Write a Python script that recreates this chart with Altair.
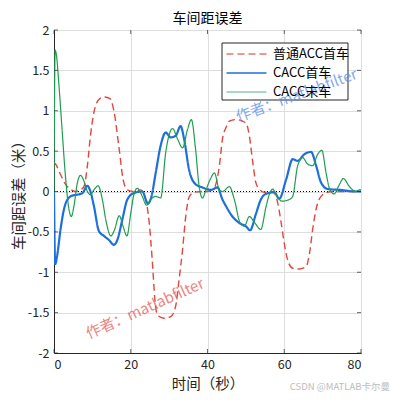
import altair as alt
import pandas as pd

series_names = ["普通ACC首车", "CACC首车", "CACC末车"]
series_colors = ["#E2463C", "#1E6FDC", "#1E9E50"]

acc_t = [0, 0.4, 1.7, 3.0, 4.5, 5.5, 6.9, 7.8, 8.7, 9.5, 10.4, 11.7, 13.0, 14.6, 15.6, 17.0, 18.0, 19.1,
         20.8, 22.6, 23.9, 24.8, 25.6, 26.3, 26.9, 28.7, 30.4, 31.7, 32.6, 33.5, 34.4, 35.2, 36.5, 38.7,
         40.0, 41.8, 43.1, 43.9, 44.8, 45.7, 47.4, 50.0, 50.9, 51.8, 52.6, 53.5, 54.8, 57.0, 58.3, 59.2,
         60.0, 60.9, 62.2, 63.9, 65.7, 66.6, 67.4, 68.3, 69.6, 71.3, 72.2, 80.0]
acc_y = [0.36, 0.34, 0.21, 0.09, 0.02, 0.0, 0.02, 0.06, 0.32, 0.69, 0.98, 1.14, 1.17, 1.15, 1.0, 0.52, 0.15, 0.02,
         0.0, 0.02, -0.1, -0.38, -0.85, -1.34, -1.53, -1.57, -1.55, -1.42, -1.09, -0.72, -0.28, -0.07, -0.01, 0.0,
         0.0, 0.05, 0.32, 0.65, 0.79, 0.87, 0.89, 0.85, 0.69, 0.36, 0.11, 0.03, -0.01, 0.0, -0.14, -0.39,
         -0.64, -0.85, -0.95, -0.96, -0.93, -0.76, -0.47, -0.22, -0.06, -0.01, 0.0, 0.0]

lead_t = [0, 0.3, 0.8, 1.7, 2.6, 3.5, 4.8, 6.0, 7.4, 8.7, 9.5, 10.4, 11.7, 13.0, 14.3, 15.6, 16.5, 17.8, 19.1,
          20.8, 23.0, 24.5, 25.4, 26.5, 27.8, 29.1, 30.4, 31.7, 33.0, 33.9, 35.2, 36.9, 38.7, 40.9, 42.6,
          43.9, 44.8, 46.5, 48.3, 50.0, 51.1, 52.6, 53.9, 55.2, 57.4, 58.7, 60.5, 62.2, 63.5, 65.2, 67.0,
          68.3, 69.6, 71.4, 74.4, 78.7, 80.0]
lead_y = [0.0, -0.9, -0.8, -0.47, -0.22, -0.1, -0.05, -0.04, -0.02, 0.07, 0.0, -0.18, -0.49, -0.55, -0.6, -0.66,
          -0.6, -0.35, -0.1, -0.02, 0.0, -0.15, -0.06, 0.23, 0.57, 0.73, 0.67, 0.69, 0.81, 0.65, 0.27, 0.09, 0.05,
          0.02, 0.05, -0.1, -0.18, -0.31, -0.39, -0.43, -0.48, -0.28, -0.1, -0.03, -0.01, -0.09, 0.15, 0.40, 0.38,
          0.46, 0.49, 0.32, 0.11, 0.03, 0.02, 0.0, 0.0]

tail_t = [0, 0.3, 0.6, 1.3, 2.1, 3.0, 3.9, 4.5, 5.2, 6.1, 6.9, 7.8, 8.7, 9.5, 10.4, 11.5, 12.6, 13.5, 14.8,
          15.8, 17.0, 18.0, 19.0, 20.0, 20.8, 21.7, 23.0, 24.1, 25.2, 26.5, 27.8, 29.1, 30.9, 32.2, 33.5, 34.8,
          35.8, 36.9, 37.8, 38.7, 39.6, 40.9, 41.8, 43.1, 43.9, 45.7, 47.0, 48.5, 49.6, 50.9, 52.2, 53.9, 55.2,
          56.3, 57.0, 57.9, 59.4, 61.3, 62.2, 63.5, 64.8, 66.1, 67.4, 68.7, 69.8, 70.9, 71.9, 73.0, 74.4, 75.4,
          77.0, 78.6, 79.6, 80.0]
tail_y = [0.0, 1.75, 1.7, 1.31, 0.77, 0.18, -0.22, -0.31, -0.18, 0.11, 0.2, 0.13, 0.0, -0.04, 0.02, 0.07, -0.1,
          -0.35, -0.55, -0.47, -0.3, -0.43, -0.55, -0.27, -0.04, 0.04, -0.06, -0.17, -0.1, -0.06, -0.08, 0.48, 0.78,
          0.65, 0.54, 0.77, 0.89, 0.52, 0.07, -0.08, 0.02, 0.17, 0.23, 0.02, 0.0, 0.06, -0.1, -0.39, -0.43, -0.31,
          -0.38, -0.47, -0.2, -0.01, 0.03, -0.04, -0.12, -0.1, -0.06, 0.32, 0.42, 0.34, 0.32, 0.46, 0.51, 0.23,
          0.02, -0.03, 0.09, 0.16, 0.06, 0.0, 0.02, 0.02]

x_ticks = [0, 20, 40, 60, 80]
y_ticks = [-2, -1.5, -1, -0.5, 0, 0.5, 1, 1.5, 2]

watermark_text = ["作者：matlabfilter", "作者：matlabfilter"]
watermark_t = [63.2, 23.7]
watermark_y = [1.19, -1.45]
watermark_angle = [340, 336]
watermark_color = ["#5B8EE6", "#E65A5A"]

rows = []
for name, ts, ys in zip(series_names, [acc_t, lead_t, tail_t], [acc_y, lead_y, tail_y]):
    for i, (t, y) in enumerate(zip(ts, ys)):
        rows.append({"series": name, "t": t, "y": y, "k": i})
df = pd.DataFrame(rows)

FONT = "Noto Sans CJK SC"
W, H = 307, 323
LEG_X, LEG_Y, LEG_W, LEG_H = 168, 13, 126, 57

xs = alt.Scale(domain=[0, 80], nice=False)
ys_ = alt.Scale(domain=[-2, 2], nice=False)

leg = alt.Legend(
    title=None, orient="none", legendX=LEG_X + 1, legendY=LEG_Y, symbolType="M-1,0H4", symbolSize=256,
    labelFont=FONT, labelFontSize=13, labelColor="#000000", strokeColor="transparent",
    padding=2, rowPadding=2.5, labelOffset=29, labelLimit=200,
)

lines = alt.Chart(df).mark_line(interpolate="monotone", clip=True).encode(
    x=alt.X("t:Q", scale=xs, axis=alt.Axis(values=x_ticks, title="时间（秒）", grid=True)),
    y=alt.Y("y:Q", scale=ys_, axis=alt.Axis(values=y_ticks, title="车间距误差（米）", grid=True,
                                              labelExpr="'' + datum.value")),
    color=alt.Color("series:N", scale=alt.Scale(domain=series_names, range=series_colors), legend=leg),
    strokeDash=alt.StrokeDash("series:N", scale=alt.Scale(domain=series_names, range=[[7, 4], [1, 0], [1, 0]]), legend=leg),
    strokeWidth=alt.StrokeWidth("series:N", scale=alt.Scale(type="ordinal", domain=series_names, range=[1.4, 2.2, 1.2]), legend=leg),
    detail="series:N",
    order="k:Q",
)

zero = alt.Chart(pd.DataFrame({"y": [0]})).mark_rule(color="#000000", strokeDash=[1, 2], strokeWidth=1).encode(
    y=alt.Y("y:Q", scale=ys_)
)

tick_df_x = pd.DataFrame({"t": x_ticks})
tick_df_y = pd.DataFrame({"y": y_ticks})
tb = alt.Chart(tick_df_x).mark_tick(orient="vertical", size=4, yOffset=-2, color="#262626", thickness=1).encode(
    x=alt.X("t:Q", scale=xs), y=alt.value(H))
tt = alt.Chart(tick_df_x).mark_tick(orient="vertical", size=4, yOffset=2, color="#262626", thickness=1).encode(
    x=alt.X("t:Q", scale=xs), y=alt.value(0))
tl = alt.Chart(tick_df_y).mark_tick(orient="horizontal", size=4, xOffset=2, color="#262626", thickness=1).encode(
    y=alt.Y("y:Q", scale=ys_), x=alt.value(0))
tr = alt.Chart(tick_df_y).mark_tick(orient="horizontal", size=4, xOffset=-2, color="#262626", thickness=1).encode(
    y=alt.Y("y:Q", scale=ys_), x=alt.value(W))

legend_box = alt.Chart(pd.DataFrame({"a": [0]})).mark_rect(
    fill="#ffffff", stroke="#262626", strokeWidth=1).encode(
    x=alt.value(LEG_X), x2=alt.value(LEG_X + LEG_W), y=alt.value(LEG_Y), y2=alt.value(LEG_Y + LEG_H))

wm_df = pd.DataFrame({"text": watermark_text, "t": watermark_t, "y": watermark_y,
                      "angle": watermark_angle, "c": watermark_color})
wm = alt.Chart(wm_df).mark_text(font=FONT, fontSize=15, opacity=0.75, align="center", baseline="middle").encode(
    x=alt.X("t:Q", scale=xs), y=alt.Y("y:Q", scale=ys_), text="text:N",
    angle=alt.Angle("angle:Q", scale=None), color=alt.Color("c:N", scale=None),
)

csdn = alt.Chart(pd.DataFrame({"text": ["CSDN @MATLAB卡尔曼"]})).mark_text(
    font=FONT, fontSize=9.5, color="#BDBDBD", align="right", baseline="middle").encode(
    x=alt.value(336), y=alt.value(357), text="text:N")

chart = alt.layer(zero, lines, tb, tt, tl, tr, legend_box, wm, csdn).properties(
    width=W, height=H,
    title=alt.TitleParams("车间距误差"),
    autosize="none",
    padding={"left": 46, "top": 22, "right": 31, "bottom": 39},
).configure_title(
    font=FONT, fontSize=14, fontWeight="normal", color="#000000", anchor="middle",
    baseline="bottom", frame="group", offset=-2,
).configure_axis(
    labelFont=FONT, labelFontSize=12.5, labelColor="#262626", titleFont=FONT, titleFontSize=14.5,
    titleFontWeight="normal", titleColor="#262626", domainColor="#262626", ticks=False,
    gridColor="#DEDEDE", gridWidth=1, labelPadding=5,
).configure_axisX(titlePadding=7).configure_axisY(titlePadding=1).configure_view(
    stroke="#262626", strokeWidth=1
)

chart.save("out.html", embed_options={"renderer": "svg", "actions": False})
